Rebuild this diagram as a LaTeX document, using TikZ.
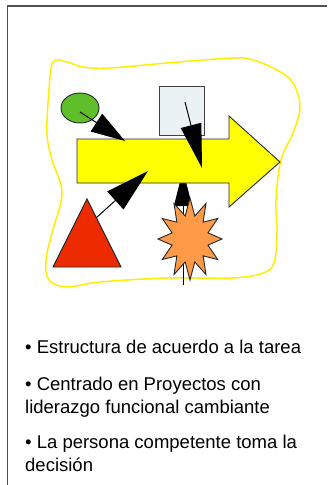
\documentclass[tikz,border=0pt]{standalone}
\usepackage{fontspec}
\setmainfont{Liberation Sans}
\usetikzlibrary{arrows.meta,shapes.geometric}
\definecolor{framegray}{HTML}{505050}
\definecolor{blobyellow}{HTML}{FFEE00}
\definecolor{arrowyellow}{HTML}{FFFF00}
\definecolor{sqfill}{HTML}{EAF2F5}
\definecolor{ellgreen}{HTML}{5FBF2A}
\definecolor{trired}{HTML}{EE2A00}
\definecolor{starorange}{HTML}{FF9A48}
\tikzset{
  outl/.style={draw=black!85, line width=0.9pt},
  bigarrow/.style={line width=1pt, -{Triangle[length=#1]}},
  bullettext/.style={anchor=base west, inner sep=0pt, font=\fontsize{18.5}{23}\selectfont},
}
\begin{document}
\begin{tikzpicture}[x=1pt,y=-1pt]
\useasboundingbox (0,0) rectangle (327,485);
\fill[white] (0,0) rectangle (327,485);
% frame
\draw[framegray, line width=1.5pt] (327,6) -- (7.5,6) -- (7.5,485);
% blob
\draw[blobyellow, line width=1.5pt] plot[smooth cycle, tension=0.6] coordinates {
 (53,62) (67,62) (83,67) (110,68) (167,63) (233,58) (253,60) (277,70) (293,83) (300,107)
 (293,133) (281,160) (276,200) (277,233) (274,263) (263,273) (233,278) (167,278) (100,282)
 (67,287) (49,280) (46,260) (52,233) (62,193) (52,160) (47,133) (49,90)};
% star arrow (drawn below yellow arrow)
\coordinate (starbot) at (183,285);
\coordinate (startip) at (183,170);
\draw[line width=1pt, -{Triangle[length=36pt,width=18pt]}] (starbot) -- (startip);
% star
\draw[outl, fill=starorange] plot[samples at={0,...,23}]
  ({190+32*(1-0.42*mod(\x,2))*cos(90+15*\x)}, {239-41*(1-0.42*mod(\x,2))*sin(90+15*\x)}) -- cycle;
% yellow arrow
\draw[outl, fill=arrowyellow] (77,139) -- (229,139) -- (229,116) -- (280,162) -- (229,207) -- (229,183) -- (77,183) -- cycle;
% square
\node[outl, draw=black!75, fill=sqfill, minimum width=45pt, minimum height=49pt, inner sep=0pt] (sq) at (181.5,110.5) {};
% ellipse
\node[outl, ellipse, fill=ellgreen, minimum width=38pt, minimum height=30pt, inner sep=0pt] (ell) at (80,108) {};
% triangle
\draw[outl, fill=trired] (87,199) -- (121,267) -- (53,267) -- cycle;
% arrows
\coordinate (ellstart) at (80,112);
\coordinate (elltip) at (125,141);
\coordinate (sqstart) at (185,102);
\coordinate (sqtip) at (202,168);
\coordinate (tristart) at (96,218);
\coordinate (tritip) at (148,171);
\draw[line width=1pt, -{Triangle[length=34pt,width=21pt]}] (ellstart) -- (elltip);
\draw[line width=1pt, -{Triangle[length=44pt,width=21pt]}] (sqstart) -- (sqtip);
\draw[line width=1pt, -{Triangle[length=44pt,width=24pt]}] (tristart) -- (tritip);
% text
\node[bullettext] (t1) at (25,353) {• Estructura de acuerdo a la tarea};
\node[bullettext] (t2) at (25,390) {• Centrado en Proyectos con};
\node[bullettext] (t3) at (25,413) {liderazgo funcional cambiante};
\node[bullettext] (t4) at (25,448) {• La persona competente toma la};
\node[bullettext] (t5) at (25,471) {decisión};
\end{tikzpicture}
\end{document}
